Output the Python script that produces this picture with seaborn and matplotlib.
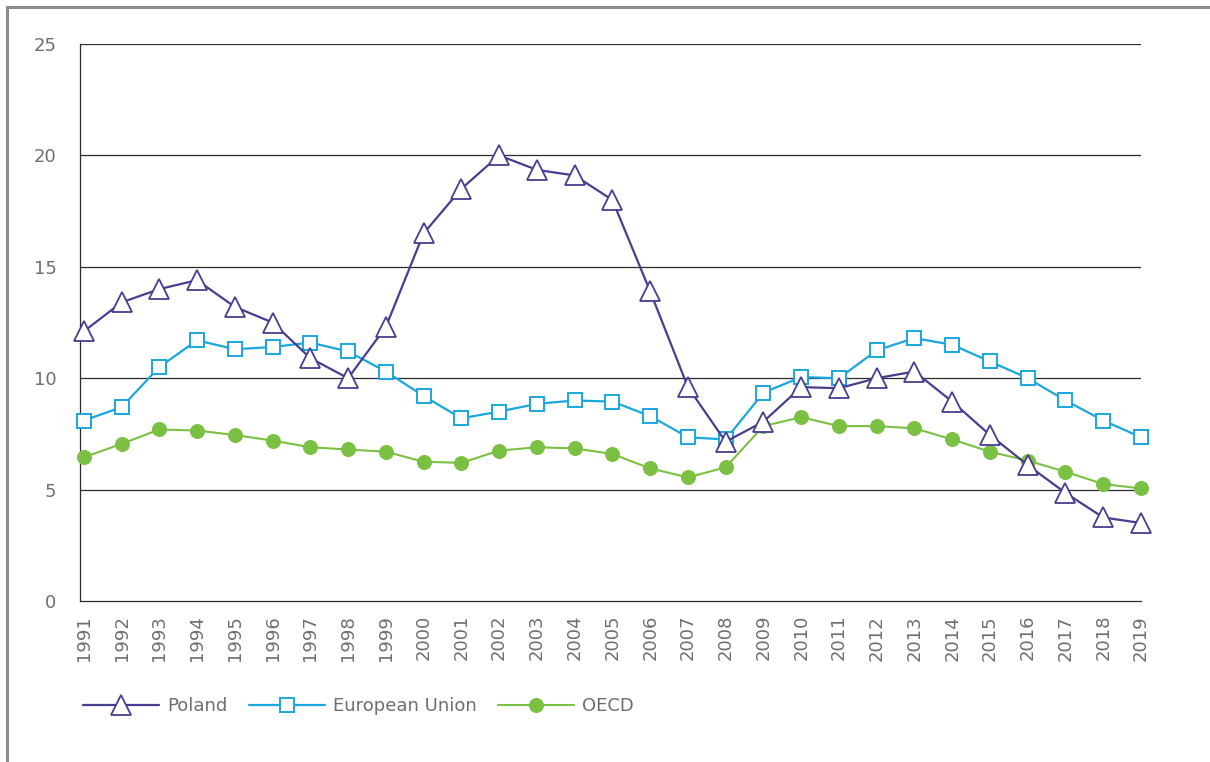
import pandas as pd
import seaborn as sns
import matplotlib.pyplot as plt
from matplotlib.lines import Line2D

# === Data ===
years = list(range(1991, 2020))
poland = [12.1, 13.4, 14.0, 14.4, 13.2, 12.5, 10.9, 10.0, 12.3, 16.5,
          18.5, 20.0, 19.35, 19.1, 18.0, 13.9, 9.6, 7.15, 8.05, 9.6,
          9.55, 10.0, 10.3, 8.95, 7.45, 6.1, 4.85, 3.75, 3.5]
eu = [8.1, 8.7, 10.5, 11.7, 11.3, 11.4, 11.6, 11.2, 10.3, 9.2,
      8.2, 8.5, 8.85, 9.0, 8.95, 8.3, 7.35, 7.25, 9.35, 10.05,
      10.0, 11.25, 11.8, 11.5, 10.75, 10.0, 9.0, 8.1, 7.35]
oecd = [6.45, 7.05, 7.7, 7.65, 7.45, 7.2, 6.9, 6.8, 6.7, 6.25,
        6.2, 6.75, 6.9, 6.85, 6.6, 5.95, 5.55, 6.0, 7.85, 8.25,
        7.85, 7.85, 7.75, 7.25, 6.7, 6.3, 5.8, 5.25, 5.05]

df = pd.DataFrame({"year": years, "Poland": poland,
                   "European Union": eu, "OECD": oecd})

sns.set_style("white")
plt.rcParams['font.family'] = ['DejaVu Sans']

grey_txt = "#6d6e71"
c_pl = "#463f8f"
c_eu = "#1aa7df"
c_oecd = "#7ac143"

fig = plt.figure(figsize=(12.1, 7.62), dpi=100)
ax = fig.add_axes([80 / 1210, 1 - 601 / 762, (1141 - 80) / 1210, (601 - 44) / 762])

# draw bottom series first so Poland sits on top
sns.lineplot(data=df, x="year", y="OECD", ax=ax, color=c_oecd, lw=1.5,
             marker="o", ms=10, mfc=c_oecd, mec=c_oecd, label="OECD",
             zorder=3, clip_on=False)
sns.lineplot(data=df, x="year", y="European Union", ax=ax, color=c_eu, lw=1.6,
             marker="s", ms=10, mfc="white", mec=c_eu, mew=1.4,
             label="European Union", zorder=4, clip_on=False)
sns.lineplot(data=df, x="year", y="Poland", ax=ax, color=c_pl, lw=1.6,
             marker="^", ms=15, mfc="white", mec=c_pl, mew=1.3,
             label="Poland", zorder=5, clip_on=False)

ax.set_xlim(1990.9, 2019)
ax.set_ylim(0, 25)
ax.set_yticks([0, 5, 10, 15, 20, 25])
ax.set_xticks(years)
ax.set_xticklabels([str(y) for y in years], rotation=90)
ax.set_xlabel("")
ax.set_ylabel("")

for y in [5, 10, 15, 20, 25]:
    ax.axhline(y, color="#2b2b2b", lw=0.9, zorder=1)

for side in ["top", "right"]:
    ax.spines[side].set_visible(False)
ax.spines["left"].set_color("#2b2b2b")
ax.spines["left"].set_linewidth(0.9)
ax.spines["bottom"].set_color("#2b2b2b")
ax.spines["bottom"].set_linewidth(0.9)

ax.tick_params(axis="y", length=7, width=0.9, color="#2b2b2b",
               labelsize=13, labelcolor=grey_txt, pad=10)
ax.tick_params(axis="x", length=0, labelsize=13, labelcolor=grey_txt, pad=10)

# legend in the order Poland, EU, OECD
handles, labels = ax.get_legend_handles_labels()
ax.get_legend().remove()
order = [labels.index("Poland"), labels.index("European Union"), labels.index("OECD")]
fig.legend([handles[i] for i in order], [labels[i] for i in order],
           loc="center left", bbox_to_anchor=(83 / 1210, 1 - 706 / 762),
           ncol=3, frameon=False, fontsize=13, labelcolor=grey_txt,
           handlelength=4.2, handletextpad=0.45, columnspacing=1.2,
           borderpad=0, borderaxespad=0)

# grey frame lines at the top and left edge
fig.add_artist(Line2D([7 / 1210, 7 / 1210], [0, 1 - 7 / 762],
                      transform=fig.transFigure, color="#8c8c8c", lw=2.2))
fig.add_artist(Line2D([7 / 1210, 1], [1 - 7 / 762, 1 - 7 / 762],
                      transform=fig.transFigure, color="#8c8c8c", lw=2.2))

fig.savefig("out.png", dpi=100)
